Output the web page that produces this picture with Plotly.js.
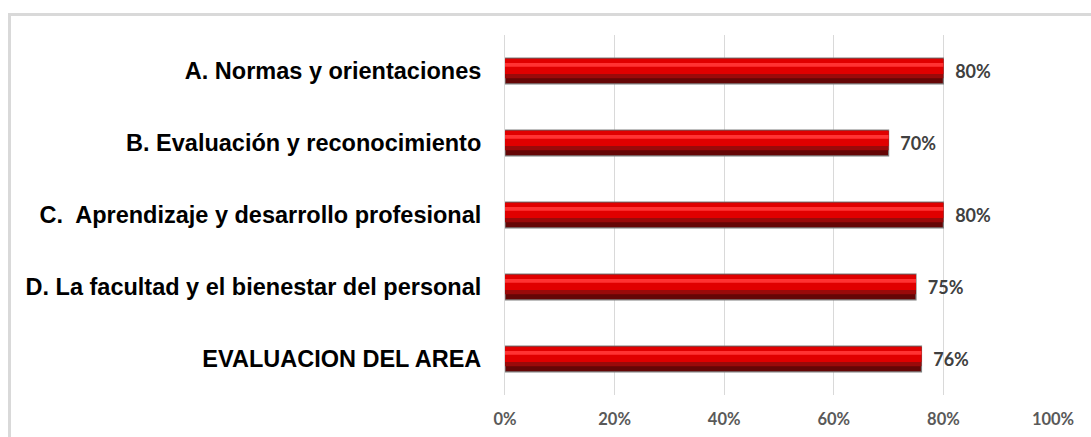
<!DOCTYPE html>
<html>
<head>
<meta charset="utf-8">
<script src="https://cdn.plot.ly/plotly-3.0.1.min.js"></script>
<style>
  html, body { margin: 0; padding: 0; background: #fff; }
  #wrap { position: relative; width: 1091px; height: 437px; overflow: hidden; }
  #frame { position: absolute; left: 8px; top: 13px; width: 1100px; height: 450px; border: 3px solid #d9d9d9; box-sizing: border-box; }
  #chart { position: absolute; left: 0; top: 0; width: 1091px; height: 437px; }
</style>
</head>
<body>
<div id="wrap">
  <div id="frame"></div>
  <div id="chart"></div>
</div>
<script>
const categories = [
  "A. Normas y orientaciones",
  "B. Evaluación y reconocimiento",
  "C.  Aprendizaje y desarrollo profesional",
  "D. La facultad y el bienestar del personal",
  "EVALUACION DEL AREA"
];
const values = [0.80, 0.70, 0.80, 0.75, 0.76];
const valueLabels = ["80%", "70%", "80%", "75%", "76%"];
const xTickVals = [0, 0.2, 0.4, 0.6, 0.8, 1.0];
const xTickText = ["0%", "20%", "40%", "60%", "80%", "100%"];

function layer(color, offset, width, extra) {
  return Object.assign({
    type: "bar", orientation: "h",
    x: values, y: categories,
    offset: offset, width: width,
    marker: { color: color, line: { width: 0 } },
    hoverinfo: "skip", showlegend: false
  }, extra || {});
}

const traces = [
  layer("#650606", -0.18, 0.36, {
    marker: { color: "#650606", line: { color: "#7f7f7f", width: 1.2 } },
    text: valueLabels, texttemplate: "\u00a0\u00a0%{text}",
    textposition: "outside", cliponaxis: false, constraintext: "none",
    textfont: { family: "Lato, 'Open Sans', sans-serif", size: 18, color: "#404040", weight: "bold" },
    outsidetextfont: { family: "Lato, 'Open Sans', sans-serif", size: 18, color: "#404040", weight: "bold" }
  }),
  layer("#9a0a0a", -0.17, 0.27),
  layer("#e00000", -0.17, 0.21),
  layer("#ff3333", -0.11, 0.05)
];

const layout = {
  width: 1091, height: 437,
  margin: { l: 505, r: 38, t: 35, b: 42 },
  paper_bgcolor: "rgba(0,0,0,0)",
  plot_bgcolor: "rgba(0,0,0,0)",
  barmode: "overlay",
  showlegend: false,
  xaxis: {
    range: [0, 1.0],
    tickvals: xTickVals, ticktext: xTickText,
    showgrid: true, gridcolor: "#d9d9d9", gridwidth: 1,
    zeroline: false, showline: false,
    ticks: "", ticklabelstandoff: 12,
    tickfont: { family: "Lato, 'Open Sans', sans-serif", size: 16.5, color: "#595959", weight: "bold" }
  },
  yaxis: {
    type: "category",
    autorange: "reversed",
    showgrid: false, zeroline: false,
    showline: true, linecolor: "#d9d9d9", linewidth: 1,
    ticks: "", ticklabelstandoff: 18,
    tickfont: { family: "'Liberation Sans', Arial, sans-serif", size: 23.5, color: "#000000", weight: "bold" }
  }
};

Plotly.newPlot("chart", traces, layout, { displayModeBar: false, staticPlot: true });
</script>
</body>
</html>
